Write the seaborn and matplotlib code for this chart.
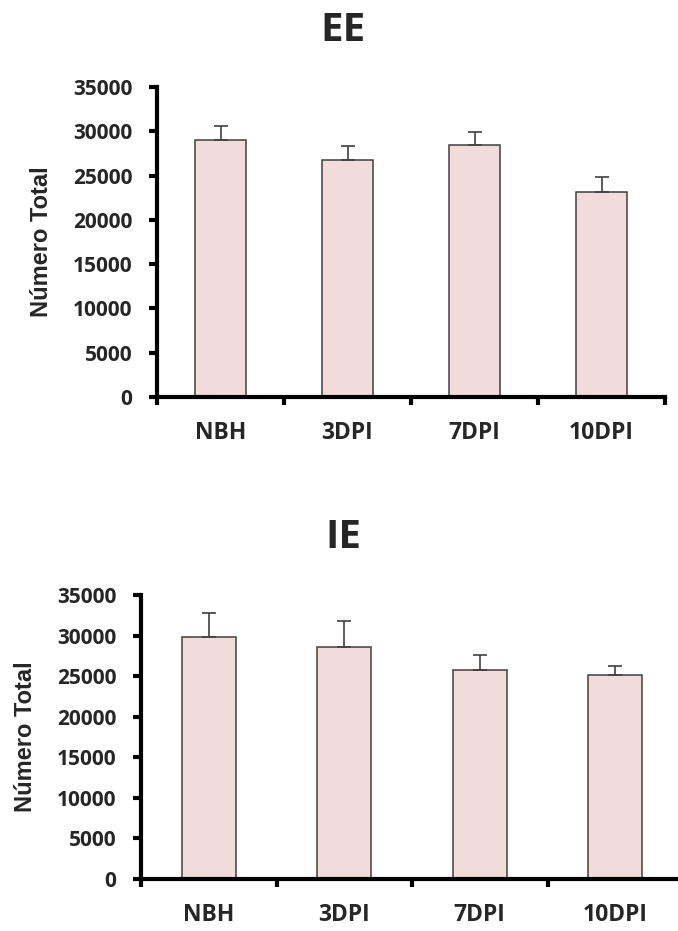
import numpy as np
import pandas as pd
import matplotlib
matplotlib.use("Agg")
import matplotlib.pyplot as plt
import seaborn as sns
from matplotlib.ticker import FixedLocator, NullFormatter

categories = ["NBH", "3DPI", "7DPI", "10DPI"]
ee_mean = [29040, 26750, 28440, 23100]
ee_err = [1580, 1580, 1470, 1770]
ie_mean = [29850, 28600, 25750, 25100]
ie_err = [2900, 3150, 1900, 1100]
yticks = [0, 5000, 10000, 15000, 20000, 25000, 30000, 35000]

sns.set_theme(style="white")
plt.rcParams['font.family'] = ['Open Sans', 'DejaVu Sans']

BAR = "#F2DCDB"
EDGE = "#404040"

fig = plt.figure(figsize=(6.78, 9.31), dpi=100)
ax1 = fig.add_axes([157/678, 1-397/931, 508/678, 310/931])
ax2 = fig.add_axes([141/678, 1-879/931, 542/678, 284/931])


def draw(ax, means, errs, title, title_y, ylab_x):
    df = pd.DataFrame({"cat": categories, "val": means})
    sns.barplot(data=df, x="cat", y="val", color=BAR, saturation=1, width=0.4,
                edgecolor=EDGE, linewidth=1.1, errorbar=None, ax=ax)
    x = np.arange(len(categories))
    ax.errorbar(x, means, yerr=[np.zeros(len(errs)), errs], fmt="none",
                ecolor=EDGE, elinewidth=1.2, capsize=4.7, capthick=1.2, zorder=3)
    ax.set_xlim(-0.5, len(categories) - 0.5)
    ax.set_ylim(0, 35000)
    ax.set_yticks(yticks)
    ax.set_yticklabels([str(v) for v in yticks], fontweight="bold", fontsize=15)
    ax.xaxis.set_major_locator(FixedLocator(x))
    ax.set_xticklabels(categories, fontweight="bold", fontsize=16.5)
    ax.xaxis.set_minor_locator(FixedLocator(np.arange(len(categories) + 1) - 0.5))
    ax.xaxis.set_minor_formatter(NullFormatter())
    ax.tick_params(axis="x", which="major", length=0, pad=17.5)
    ax.tick_params(axis="x", which="minor", length=6, width=3, color="black",
                   direction="out", bottom=True)
    ax.tick_params(axis="y", which="major", length=5.8, width=3, color="black",
                   direction="out", left=True, pad=12)
    for s in ["top", "right"]:
        ax.spines[s].set_visible(False)
    for s in ["left", "bottom"]:
        ax.spines[s].set_color("black")
        ax.spines[s].set_linewidth(3)
    ax.set_xlabel("")
    ax.set_ylabel("Número Total", fontweight="bold", fontsize=17,
                  family=["Liberation Sans", "DejaVu Sans"])
    ax.yaxis.set_label_coords(ylab_x, 0.5)
    ax.grid(False)
    fig.text(343/678, title_y, title, ha="center", va="baseline",
             fontsize=29, fontweight="bold")


draw(ax1, ee_mean, ee_err, "EE", 1-40.7/931, (53-157)/508)
draw(ax2, ie_mean, ie_err, "IE", 1-548/931, (37-141)/542)

fig.savefig("out.png", dpi=100, facecolor="white")
